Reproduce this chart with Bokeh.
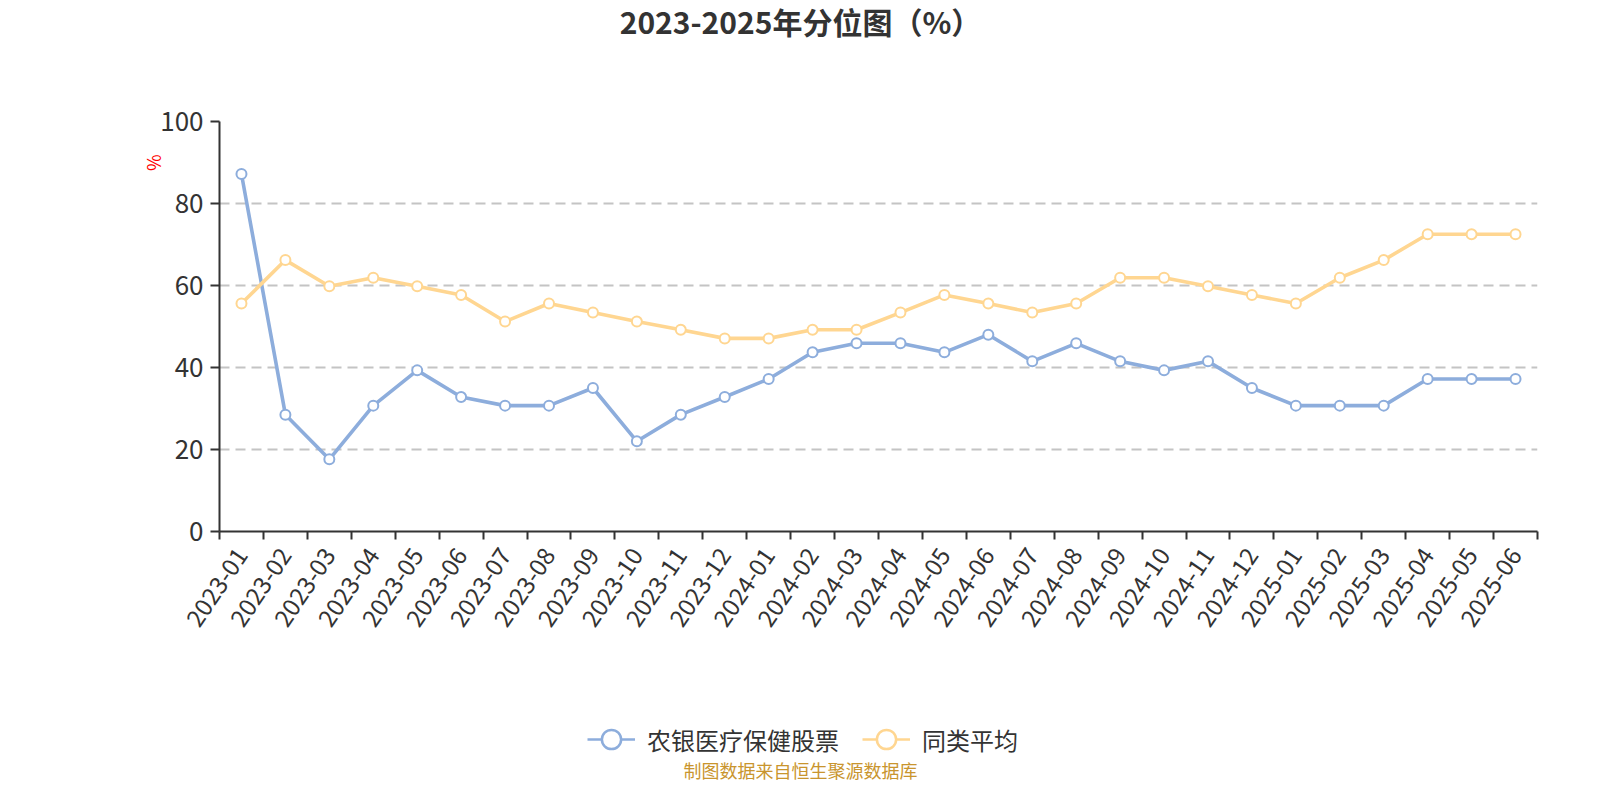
import math
from bokeh.plotting import figure
from bokeh.layouts import column
from bokeh.models import Range1d, FixedTicker, Label, Legend, LegendItem, ColumnDataSource, Title
from bokeh.embed import file_html
from bokeh.resources import INLINE

months = ["2023-01", "2023-02", "2023-03", "2023-04", "2023-05", "2023-06",
          "2023-07", "2023-08", "2023-09", "2023-10", "2023-11", "2023-12",
          "2024-01", "2024-02", "2024-03", "2024-04", "2024-05", "2024-06",
          "2024-07", "2024-08", "2024-09", "2024-10", "2024-11", "2024-12",
          "2025-01", "2025-02", "2025-03", "2025-04", "2025-05", "2025-06"]
fund = [87.2, 28.5, 17.6, 30.7, 39.3, 32.8, 30.7, 30.7, 35.0, 22.0,
        28.5, 32.8, 37.2, 43.7, 45.9, 45.9, 43.7, 48.0, 41.5, 45.9,
        41.5, 39.3, 41.5, 35.0, 30.7, 30.7, 30.7, 37.2, 37.2, 37.2]
peer_avg = [55.6, 66.2, 59.8, 61.9, 59.8, 57.7, 51.2, 55.6, 53.4, 51.2,
            49.2, 47.1, 47.1, 49.2, 49.2, 53.4, 57.7, 55.6, 53.4, 55.6,
            61.9, 61.9, 59.8, 57.7, 55.6, 61.9, 66.2, 72.5, 72.5, 72.5]
y_ticks = [0, 20, 40, 60, 80, 100]
series_names = ["农银医疗保健股票", "同类平均"]
title_text = "2023-2025年分位图（%）"
footer_text = "制图数据来自恒生聚源数据库"
y_unit = "%"

FONT = "Noto Sans CJK SC"
BLUE = "#8daddc"
ORANGE = "#ffd691"
TXT = "#333333"

W = 1584
TOP_H, MAIN_H, BOT_H = 48, 652, 84
L, R = 219, W - 1537
FRAME_TOP, FRAME_BOTTOM = 121, 531  # canvas coordinates
NAN = float("nan")


def blank(height):
    # strip whose x data units equal canvas pixels (frame aligned with the main chart)
    f = figure(width=W, height=height, output_backend="svg", toolbar_location=None,
               x_range=Range1d(L, W - R), y_range=Range1d(0, height),
               x_axis_location=None, y_axis_location=None,
               min_border_left=L, min_border_right=R,
               min_border_top=0, min_border_bottom=0)
    f.outline_line_color = None
    f.xgrid.visible = False
    f.ygrid.visible = False
    return f


# ---------- title strip ----------
top = blank(TOP_H)
top.add_layout(Label(x=800, y=TOP_H - 20, text=title_text, text_font=FONT,
                     text_font_size="30px", text_font_style="bold", text_color=TXT,
                     text_align="center", text_baseline="middle"))

# ---------- main chart ----------
idx = list(range(len(months)))
src = ColumnDataSource(dict(x=idx, fund=fund, avg=peer_avg))

p = figure(width=W, height=MAIN_H, output_backend="svg", toolbar_location=None,
           x_range=Range1d(-0.5, len(months) - 0.5), y_range=Range1d(0, 100),
           min_border_left=L, min_border_right=R,
           min_border_top=FRAME_TOP - TOP_H,
           min_border_bottom=TOP_H + MAIN_H - FRAME_BOTTOM)
p.outline_line_color = None

xa = p.xaxis[0]
xa.ticker = FixedTicker(ticks=idx, minor_ticks=[i - 0.5 for i in range(len(months) + 1)])
xa.major_label_overrides = {i: m for i, m in enumerate(months)}
xa.major_label_orientation = math.radians(56)
xa.major_tick_line_color = None
xa.major_tick_out = 8
xa.major_tick_in = 0
xa.minor_tick_line_color = TXT
xa.minor_tick_line_width = 2
xa.minor_tick_out = 8
xa.minor_tick_in = 0
xa.axis_line_color = TXT
xa.axis_line_width = 2
xa.major_label_text_font = FONT
xa.major_label_text_font_size = "24px"
xa.major_label_text_color = TXT
xa.major_label_standoff = 11

ya = p.yaxis[0]
ya.ticker = FixedTicker(ticks=y_ticks, minor_ticks=[])
ya.major_tick_line_color = TXT
ya.major_tick_line_width = 2
ya.major_tick_out = 9
ya.major_tick_in = 0
ya.axis_line_color = TXT
ya.axis_line_width = 2
ya.major_label_text_font = FONT
ya.major_label_text_font_size = "26px"
ya.major_label_text_color = TXT
ya.major_label_standoff = 7

p.add_layout(Title(text=y_unit, align="right", offset=33, standoff=-16,
                   text_font=FONT, text_font_size="18px", text_font_style="normal",
                   text_color="red"), "left")

p.xgrid.visible = False
p.ygrid.ticker = FixedTicker(ticks=y_ticks[1:])
p.ygrid.grid_line_color = "#c4c4c4"
p.ygrid.grid_line_width = 1.8
p.ygrid.grid_line_dash = "10 6"

line_kw = dict(line_width=3.6)
mark_kw = dict(marker="circle", size=10, fill_color="white", line_width=2)
p.line("x", "fund", source=src, line_color=BLUE, **line_kw)
p.scatter("x", "fund", source=src, line_color=BLUE, **mark_kw)
p.line("x", "avg", source=src, line_color=ORANGE, **line_kw)
p.scatter("x", "avg", source=src, line_color=ORANGE, **mark_kw)

# ---------- legend + footer strip ----------
bot = blank(BOT_H)
items = []
for name, color in zip(series_names, [BLUE, ORANGE]):
    # legend-only glyphs (NaN data: nothing is drawn in the strip itself)
    lr = bot.line([NAN], [NAN], line_color=color, line_width=2.5)
    sr = bot.scatter([NAN], [NAN], marker="circle", fill_color="white",
                     line_color=color, line_width=2.5)
    items.append(LegendItem(label=name, renderers=[lr, sr]))
strip_top = TOP_H + MAIN_H
legend_center = 739 - strip_top
legend = Legend(items=items, location=(587 - L, BOT_H - legend_center - 25),
                orientation="horizontal", glyph_width=48, glyph_height=50,
                label_standoff=12, spacing=23, padding=0, margin=0,
                border_line_color=None, background_fill_alpha=0,
                label_text_font=FONT, label_text_font_size="24px", label_text_color=TXT)
bot.add_layout(legend)
bot.add_layout(Label(x=800, y=BOT_H - (769 - strip_top), text=footer_text, text_font=FONT,
                     text_font_size="18px", text_color="#c9952e",
                     text_align="center", text_baseline="middle"))

layout = column(top, p, bot, spacing=0)
open("out.html", "w").write(file_html(layout, INLINE))
